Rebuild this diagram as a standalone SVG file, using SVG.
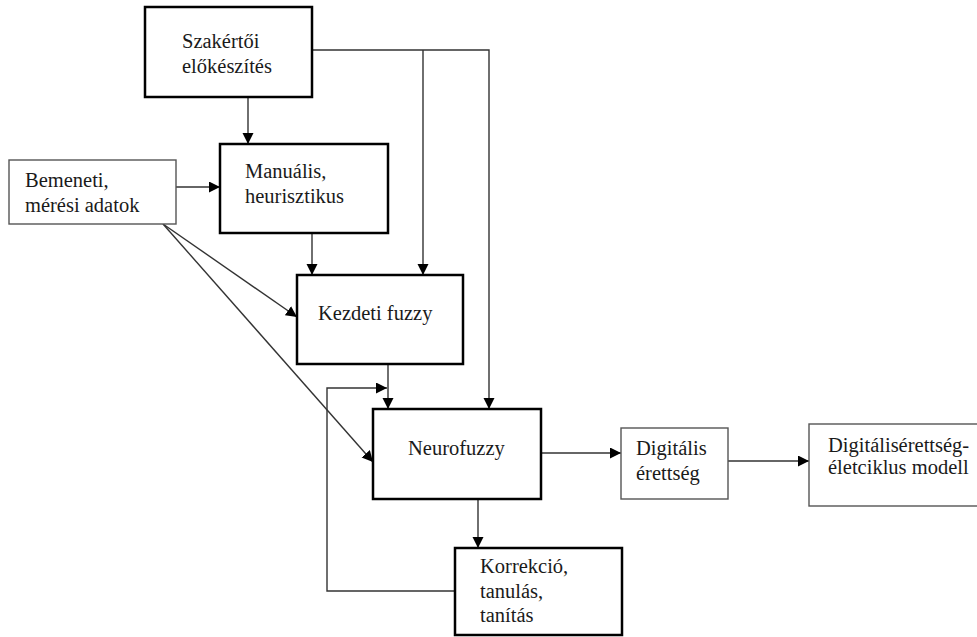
<svg xmlns="http://www.w3.org/2000/svg" width="977" height="637" viewBox="0 0 977 637">
  <style>
    .thick { fill: #fff; stroke: #000; stroke-width: 2.5; }
    .thin { fill: #fff; stroke: #555; stroke-width: 1.4; }
    .lbl { font-family: "Liberation Serif", "Times New Roman", serif; font-size: 20.5px; fill: #1a1a1a; }
    .wire { fill: none; stroke: #333; stroke-width: 1.4; }
  </style>
  <defs>
    <marker id="arrow" markerUnits="userSpaceOnUse" markerWidth="12" markerHeight="12" refX="11" refY="5.5" orient="auto">
      <path d="M0,0 L11,5.5 L0,11 z" fill="#000"/>
    </marker>
  </defs>
  <rect width="977" height="637" fill="#fff"/>

  <!-- connectors -->
  <g id="connectors">
    <!-- from expert preparation -->
    <line class="wire" x1="248" y1="97" x2="248" y2="144" marker-end="url(#arrow)"/>
    <polyline class="wire" points="312,50 489,50 489,409" marker-end="url(#arrow)"/>
    <line class="wire" x1="423" y1="50" x2="423" y2="275" marker-end="url(#arrow)"/>
    <!-- from input data -->
    <line class="wire" x1="176" y1="187" x2="220" y2="187" marker-end="url(#arrow)"/>
    <line class="wire" x1="163" y1="224" x2="297" y2="317" marker-end="url(#arrow)"/>
    <line class="wire" x1="163" y1="224" x2="373" y2="462" marker-end="url(#arrow)"/>
    <!-- main chain -->
    <line class="wire" x1="312" y1="233" x2="312" y2="275" marker-end="url(#arrow)"/>
    <line class="wire" x1="388" y1="364" x2="388" y2="409" marker-end="url(#arrow)"/>
    <line class="wire" x1="541" y1="453" x2="621" y2="453" marker-end="url(#arrow)"/>
    <line class="wire" x1="728" y1="461" x2="809" y2="461" marker-end="url(#arrow)"/>
    <line class="wire" x1="478" y1="499" x2="478" y2="548" marker-end="url(#arrow)"/>
    <!-- feedback loop back into the neuro-fuzzy stage -->
    <polyline class="wire" points="455,591 327,591 327,388 387,388" marker-end="url(#arrow)"/>
  </g>

  <g id="szakertoi">
    <rect class="thick" x="145" y="7" width="167" height="90"/>
    <text class="lbl" x="182" y="48">Szakértői</text>
    <text class="lbl" x="182" y="73">előkészítés</text>
  </g>

  <g id="bemeneti">
    <rect class="thin" x="9" y="160" width="167" height="64"/>
    <text class="lbl" x="25" y="187">Bemeneti,</text>
    <text class="lbl" x="25" y="212">mérési adatok</text>
  </g>

  <g id="manualis">
    <rect class="thick" x="220" y="144" width="168" height="89"/>
    <text class="lbl" x="245" y="178">Manuális,</text>
    <text class="lbl" x="245" y="203">heurisztikus</text>
  </g>

  <g id="kezdeti">
    <rect class="thick" x="297" y="275" width="166" height="89"/>
    <text class="lbl" x="318" y="320">Kezdeti fuzzy</text>
  </g>

  <g id="neurofuzzy">
    <rect class="thick" x="373" y="409" width="168" height="90"/>
    <text class="lbl" x="408" y="455">Neurofuzzy</text>
  </g>

  <g id="digitalis">
    <rect class="thin" x="621" y="428" width="107" height="71"/>
    <text class="lbl" x="636" y="455">Digitális</text>
    <text class="lbl" x="636" y="480">érettség</text>
  </g>

  <g id="eletciklus">
    <rect class="thin" x="809" y="424" width="180" height="82"/>
    <text class="lbl" x="828" y="452">Digitálisérettség-</text>
    <text class="lbl" x="828" y="474">életciklus modell</text>
  </g>

  <g id="korrekcio">
    <rect class="thick" x="455" y="548" width="167" height="87"/>
    <text class="lbl" x="480" y="573">Korrekció,</text>
    <text class="lbl" x="480" y="598">tanulás,</text>
    <text class="lbl" x="480" y="622">tanítás</text>
  </g>
</svg>
